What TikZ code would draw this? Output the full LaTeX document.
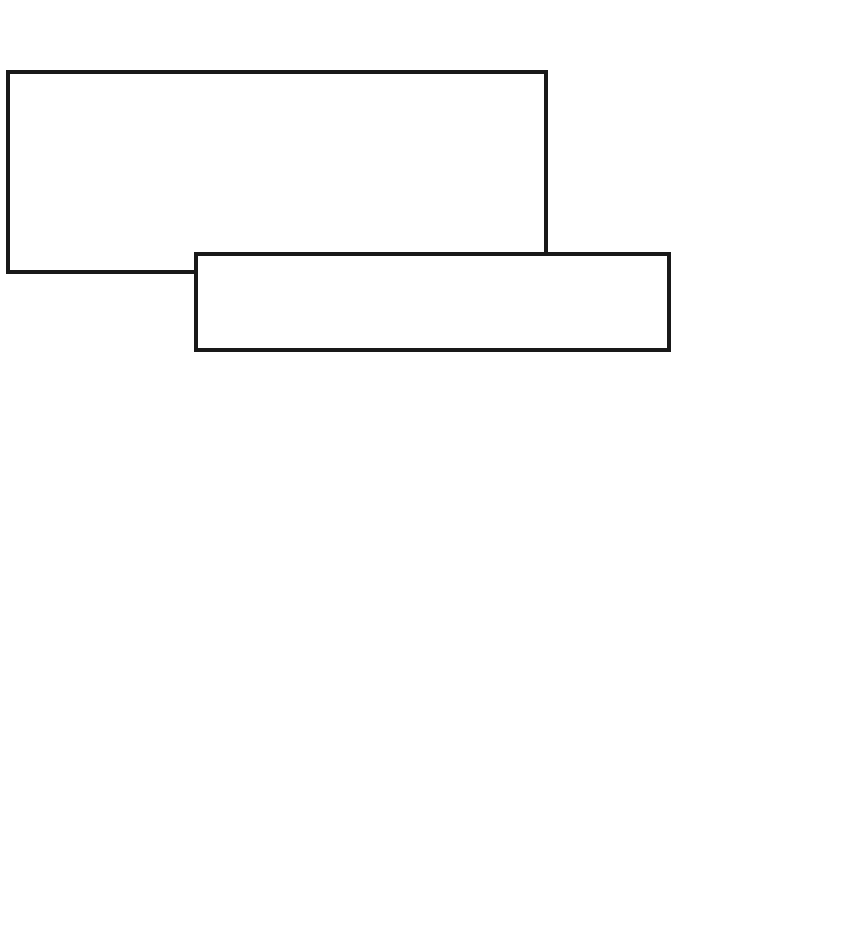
\documentclass[tikz,border=0pt]{standalone}
\begin{document}
\begin{tikzpicture}[x=1pt,y=-1pt,
  boxline/.style={draw=black!90,line width=3.6pt,fill=white}]
\useasboundingbox (0,0) rectangle (850,951);
\fill[white] (0,0) rectangle (850,951);
\draw[boxline] (8,72) rectangle (546,272);
\draw[boxline] (196,254) rectangle (669,350);
\end{tikzpicture}
\end{document}
